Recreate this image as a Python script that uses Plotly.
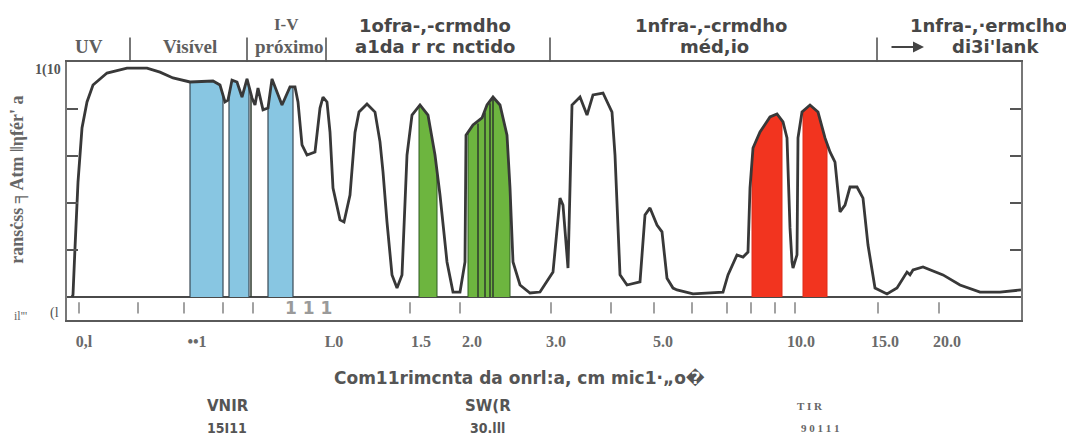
import numpy as np
import plotly.graph_objects as go

# ---------------- data ----------------
# position along the chart's (non-linear) wavelength scale, and transmission (%)
POS = [5, 6, 8, 11, 15, 20, 26, 40, 60, 80, 93, 106, 123, 146, 153, 158, 161, 165, 170, 175,
       180, 185, 188, 191, 196, 201, 205, 210, 215, 223, 228, 231, 235, 240, 248, 253, 256, 260,
       263, 266, 273, 277, 283, 288, 292, 300, 308, 313, 316, 320, 325, 330, 335, 340, 345, 353,
       361, 368, 373, 380, 386, 393, 398, 399, 406, 415, 420, 426, 433, 440, 443, 446, 453, 463,
       473, 486, 493, 496, 501, 503, 505, 513, 520, 526, 536, 545, 548, 553, 560, 573, 578, 583,
       590, 595, 600, 606, 610, 626, 656, 661, 670, 676, 681, 683, 686, 693, 703, 710, 716, 720,
       723, 725, 726, 730, 731, 735, 743, 751, 758, 763, 768, 773, 778, 783, 790, 796, 801, 808,
       820, 830, 840, 843, 846, 856, 876, 893, 913, 933, 954]
TRANS = [0, 0.9, 20.9, 48.9, 71.9, 83.0, 90.2, 95.3, 97.4, 97.4, 95.7, 93.2, 91.5, 91.9, 90.2,
         83.0, 83.8, 92.3, 91.5, 85.1, 92.8, 84.7, 81.7, 88.9, 79.6, 80.4, 92.8, 87.2, 81.7, 89.4,
         89.4, 83.0, 64.7, 60.4, 61.7, 80.4, 85.1, 83.0, 70.2, 46.4, 32.8, 31.9, 43.4, 70.0, 78.7,
         82.1, 78.7, 66.0, 53.2, 31.9, 9.4, 3.8, 9.4, 60.4, 77.4, 81.7, 77.4, 60.4, 43.4, 14.9,
         2.1, 2.1, 14.9, 68.9, 73.2, 76.2, 81.7, 85.1, 81.7, 68.9, 46.4, 14.9, 5.1, 1.7, 2.1, 10.6,
         42.1, 39.1, 12.3, 46.4, 81.7, 85.1, 77.4, 86.0, 86.8, 78.7, 60.4, 9.4, 5.1, 6.4, 34.9,
         37.9, 30.6, 27.7, 8.0, 3.8, 3.0, 1.3, 2.1, 9.4, 17.9, 17.0, 19.1, 46.4, 63.4, 70.2, 76.6,
         77.9, 74.5, 67.7, 29.4, 14.9, 12.3, 17.9, 67.7, 78.7, 81.7, 78.7, 67.7, 61.7, 57.4, 36.2,
         39.1, 46.8, 46.8, 42.1, 22.1, 3.8, 1.3, 3.8, 10.6, 9.4, 11.5, 12.8, 9.4, 5.1, 2.1, 2.1,
         3.0]

TICK_POS = [17, 130, 267, 354, 405, 489, 596, 734, 818, 880]
TICK_TEXT = ["0,l", "••1", "L0", "1.5", "2.0", "3.0", "5.0", "10.0", "15.0", "20.0"]
Y_TICKS = [20, 40, 60, 80]

BLUE_BANDS = [[123, 156], [162, 182], [201, 226]]
BLUE_LINES = [184]
GREEN_BANDS = [[352, 370], [401, 443]]
GREEN_LINES = [411, 418, 423, 426]
RED_BANDS = [[685, 715], [736, 760]]

STRIP_TICKS = [12, 71, 117, 156, 186, 343, 393, 484, 544, 587, 625, 660, 684, 708, 728, 811, 872]
REGION_DIVIDERS = [63, 180, 259, 483, 810]

HEADER_TOP = ["I-V", "1ofra-,-crmdho", "1nfra-,-crmdho", "1nfra-,·ermclho"]
HEADER_BOTTOM = ["UV", "Visível", "próximo", "a1da r rc nctido", "méd,io", "di3i'lank"]
GROUP_NAMES = ["VNIR", "SW(R", "T I R"]
GROUP_COUNTS = ["15I11", "30.lll", "9 0 1 1 1"]

Y_TITLE = "ransċss ╕Atm ‖ηfér' a"
X_TITLE = "Com11rimcnta da onrl:a, cm mic1·„o\ufffd"

# ---------------- figure ----------------
SERIF = "Liberation Serif, Times New Roman, serif"
SANS = "DejaVu Sans, Verdana, sans-serif"
CURVE = "#383838"
SERIF_C = "#5e5e5e"
SANS_C = "#474747"


def curve_at(u):
    return float(np.interp(u, POS, TRANS))


def band_shape(a, b):
    xs = [a] + [p for p in POS if a < p < b] + [b]
    ys = [curve_at(x) for x in xs]
    return [a] + xs + [b], [0] + ys + [0]


fig = go.Figure()

for a, b in BLUE_BANDS:
    x, y = band_shape(a, b)
    fig.add_trace(go.Scatter(x=x, y=y, fill="toself", fillcolor="#88c6e2", mode="lines",
                             line=dict(color="#3a4a55", width=1.2), hoverinfo="skip"))
for a, b in GREEN_BANDS:
    x, y = band_shape(a, b)
    fig.add_trace(go.Scatter(x=x, y=y, fill="toself", fillcolor="#6db53f", mode="lines",
                             line=dict(color="#2f5a22", width=1), hoverinfo="skip"))
for a, b in RED_BANDS:
    x, y = band_shape(a, b)
    fig.add_trace(go.Scatter(x=x, y=y, fill="toself", fillcolor="#f2341f", mode="lines",
                             line=dict(color="#e02a18", width=1), hoverinfo="skip"))

# dark separator lines inside bands
lx, ly = [], []
for u in BLUE_LINES + GREEN_LINES:
    lx += [u, u, None]
    ly += [0, curve_at(u) - 1, None]
fig.add_trace(go.Scatter(x=lx, y=ly, mode="lines", line=dict(color="#2e3a2e", width=1.5),
                         hoverinfo="skip"))

# transmission curve
fig.add_trace(go.Scatter(x=POS, y=TRANS, mode="lines", line=dict(color=CURVE, width=2.8),
                         hoverinfo="skip"))

# small tick marks in the lower strip
sx, sy = [], []
for u in STRIP_TICKS:
    sx += [u, u, None]
    sy += [-2.2, -7.0, None]
fig.add_trace(go.Scatter(x=sx, y=sy, mode="lines", line=dict(color="#7a7a7a", width=1.4),
                         hoverinfo="skip"))

# region dividers above the frame
for u in REGION_DIVIDERS:
    fig.add_shape(type="line", xref="x", yref="paper", x0=u, x1=u, y0=1.0, y1=1.095,
                  line=dict(color="#555555", width=1.6))


def text(x, y, t, font, xref="x", yref="paper", xanchor="center", angle=0):
    return dict(x=x, y=y, xref=xref, yref=yref, text=t, showarrow=False, font=font,
                xanchor=xanchor, yanchor="middle", textangle=angle)


ann = []
top_pos = [219, 368, 644, 921]
top_y = [1.145, 1.140, 1.140, 1.140]
bot_pos = [22, 123, 222, 368, 647, 928]
for i, t in enumerate(HEADER_TOP):
    serif = i == 0
    ann.append(text(top_pos[i], top_y[i], t,
                    dict(family=SERIF if serif else SANS, size=17 if serif else 18,
                         color=SERIF_C if serif else SANS_C, weight="bold")))
for i, t in enumerate(HEADER_BOTTOM):
    serif = i < 3
    ann.append(text(bot_pos[i], 1.062, t,
                    dict(family=SERIF if serif else SANS, size=19 if serif else 18,
                         color=SERIF_C if serif else SANS_C, weight="bold")))
# arrow towards the far infrared
ann.append(dict(x=857, y=1.058, xref="x", yref="paper", ax=-34, ay=0, text="",
                showarrow=True, arrowhead=2, arrowsize=1.1, arrowwidth=2, arrowcolor="#444"))

# y labels
ann.append(text(-0.004, 0.969, "1(10", dict(family=SERIF, size=14, color="#555", weight="bold"),
                xref="paper", xanchor="right"))
ann.append(text(-0.006, 0.027, "(l", dict(family=SERIF, size=14, color="#555"),
                xref="paper", xanchor="right"))
ann.append(text(-0.049, 0.016, "il'''", dict(family=SERIF, size=12, color="#666"),
                xref="paper"))
ann.append(text(-0.051, 0.545, Y_TITLE,
                dict(family=SERIF, size=18, color="#666", weight="bold"),
                xref="paper", angle=-90))

# strip digits
ann.append(text(241, -4.7, "1 1 1", dict(family=SANS, size=17, color="#9a9a9a", weight="bold"),
                yref="y"))

# x title and band groups
ann.append(text(452, -0.225, X_TITLE, dict(family=SANS, size=17, color="#555", weight="bold")))
grp_pos = [161, 421, 743]
cnt_pos = [160, 420, 753]
for i in range(3):
    serif = i == 2
    ann.append(text(grp_pos[i], -0.335, GROUP_NAMES[i],
                    dict(family=SERIF if serif else SANS, size=11 if serif else 15,
                         color="#666" if serif else "#555", weight="bold")))
    ann.append(text(cnt_pos[i], -0.42, GROUP_COUNTS[i],
                    dict(family=SERIF if serif else "DejaVu Sans Condensed, DejaVu Sans",
                         size=11 if serif else 14,
                         color="#666" if serif else "#555", weight="bold")))

# the page body adds an 8px offset, so the figure is 8px smaller with margins shifted
fig.update_layout(
    width=1066, height=428,
    margin=dict(l=59, r=53, t=54, b=116),
    plot_bgcolor="white", paper_bgcolor="white",
    showlegend=False,
    annotations=ann,
    xaxis=dict(range=[0, 954], showgrid=False, zeroline=False, showline=True, mirror=True,
               linecolor="#5a5a5a", linewidth=2, tickmode="array", tickvals=TICK_POS,
               ticktext=TICK_TEXT, ticks="outside", ticklen=6, tickcolor="rgba(0,0,0,0)",
               tickfont=dict(family=SERIF, size=16, color="#6a6a6a", weight="bold")),
    yaxis=dict(range=[-9.8, 100], showgrid=False, zeroline=True, zerolinecolor="#4a4a4a",
               zerolinewidth=2, showline=True, mirror="ticks", linecolor="#777",
               linewidth=2, tickmode="array", tickvals=Y_TICKS, ticks="inside", ticklen=11,
               tickwidth=1.5, tickcolor="#555", showticklabels=False),
)

fig.write_html("out.html")
